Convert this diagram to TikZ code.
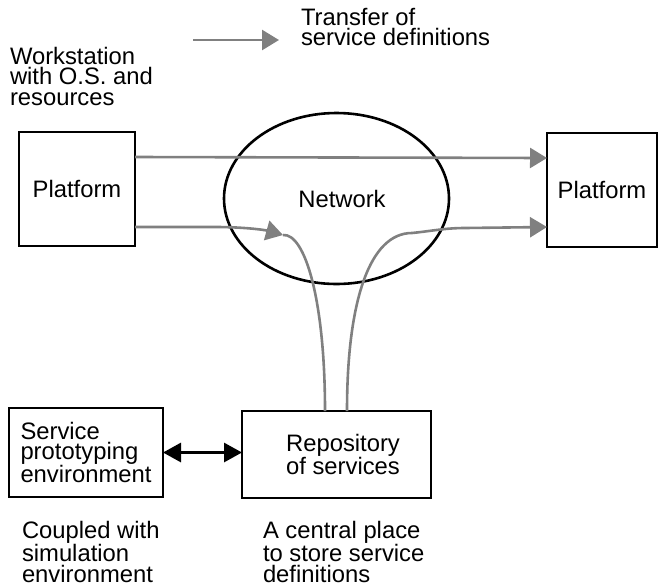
\documentclass[tikz,border=0pt]{standalone}
\usepackage{fontspec}
\setmainfont{Liberation Sans}
\usetikzlibrary{shapes.geometric,arrows.meta}
\definecolor{flowgray}{RGB}{128,128,128}
\tikzset{
  txt/.style={font=\fontsize{23.8}{20.3}\selectfont, inner sep=0pt, outer sep=0pt},
  box/.style={txt, draw=black, line width=2.6pt, rectangle, align=left},
  note/.style={txt, align=left, anchor=base west},
  flow/.style={draw=flowgray, line width=2.6pt},
  flowarrow/.style={flow, -{Triangle[length=17pt,width=20pt]}},
  link/.style={draw=black, line width=3pt, {Triangle[length=18pt,width=19pt]}-{Triangle[length=18pt,width=19pt]}}
}
\begin{document}
\begin{tikzpicture}[x=1pt,y=-1pt]
\useasboundingbox (0,0) rectangle (660,587);

% legend (text nodes are placed by the baseline of their last line)
\coordinate (lgA) at (193,40);
\coordinate (lgB) at (279,40);
\draw[flowarrow] (lgA) -- (lgB);
\node[note] (lgtext) at (301,45.5) {Transfer of\\service definitions};

% platforms and network
\node[note] (ws) at (10,105) {Workstation\\with O.S. and\\resources};
\node[box, minimum width=116pt, minimum height=114pt, align=center] (lp) at (77,189) {Platform};
\node[box, minimum width=110pt, minimum height=114pt, align=center] (rp) at (602,190) {Platform};
\node[txt, draw=black, line width=2.6pt, ellipse, minimum width=225pt, minimum height=171pt] (net) at (336.5,198.5) {\hspace*{11pt}Network};

% lower boxes
\node[box, minimum width=154pt, minimum height=89pt] (svc) at (86,452.5) {Service\\prototyping\\environment};
\node[box, minimum width=189pt, minimum height=87pt] (repo) at (336.5,454.5) {\hspace*{13pt}Repository\\\hspace*{13pt}of services};

\node[note] (svcnote) at (22,582) {Coupled with\\simulation\\environment};
\node[note] (reponote) at (263,582) {A central place\\to store service\\definitions};

% transfers through the network
\draw[flowarrow] ([yshift=32pt]lp.east) -- ([yshift=32pt]rp.west);
\coordinate (hub) at (283,235);
\draw[flowarrow] ([yshift=-38pt]lp.east) -- (215,227) .. controls (245,227) and (265,230) .. (hub);
\draw[flow] (hub) .. controls (305,233) and (325,300) .. ([xshift=-11.5pt]repo.north);
\draw[flowarrow] ([xshift=10.5pt]repo.north) .. controls (347,300) and (370,233) .. (412,233)
  .. controls (432,231) and (445,228) .. (465,228) -- ([yshift=-37pt]rp.west);

% exchange between prototyping environment and repository
\draw[link] (svc.east) -- (svc.east -| repo.west);
\end{tikzpicture}
\end{document}
